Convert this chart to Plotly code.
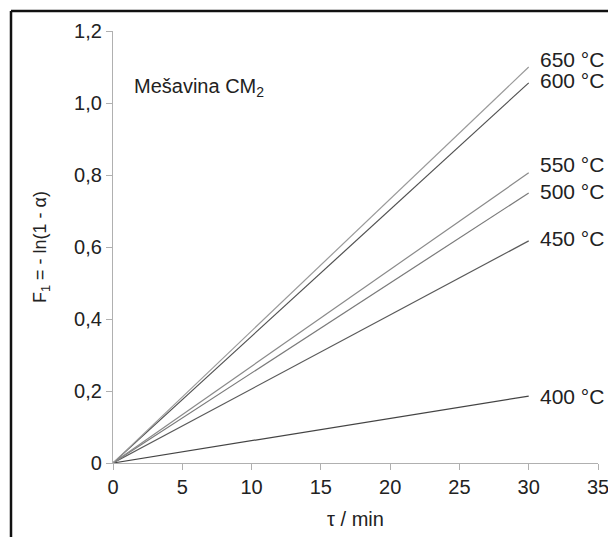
import plotly.graph_objects as go

# Data
tau = [0, 30]
series_names = ["400 °C", "450 °C", "500 °C", "550 °C", "600 °C", "650 °C"]
f400 = [0, 0.186]
f450 = [0, 0.617]
f500 = [0, 0.750]
f550 = [0, 0.806]
f600 = [0, 1.056]
f650 = [0, 1.100]
series_values = [f400, f450, f500, f550, f600, f650]
line_colors = ["#444444", "#5a5a5a", "#7a7a7a", "#8a8a8a", "#505050", "#9a9a9a"]

y_tickvals = [0, 0.2, 0.4, 0.6, 0.8, 1.0, 1.2]
y_ticktext = ["0", "0,2", "0,4", "0,6", "0,8", "1,0", "1,2"]
x_tickvals = [0, 5, 10, 15, 20, 25, 30, 35]

FONT = "Liberation Sans, Arial, sans-serif"
OFF = 8  # page body margin
W, H = 616 - OFF, 537 - OFF
L, T = 113 - OFF, 31 - OFF
pw, ph = 485, 432
R, B = W - L - pw, H - T - ph

label_shift = {"650 °C": 8, "600 °C": 2, "550 °C": 8, "500 °C": 2, "450 °C": 2, "400 °C": 0}

fig = go.Figure()
for name, vals, col in zip(series_names, series_values, line_colors):
    fig.add_trace(go.Scatter(x=tau, y=vals, mode="lines", name=name,
                             line=dict(color=col, width=1.2), showlegend=False,
                             hoverinfo="skip"))
    fig.add_annotation(x=tau[-1], y=vals[-1], xref="x", yref="y", text=name,
                       showarrow=False, xanchor="left", xshift=9,
                       yshift=label_shift[name],
                       font=dict(family=FONT, size=21, color="#222222"))

fig.add_annotation(x=(132 - 113) / pw, y=(463 - 87) / ph, xref="paper", yref="paper",
                   text="Mešavina CM<sub>2</sub>", showarrow=False, xanchor="left",
                   yanchor="middle", font=dict(family=FONT, size=20, color="#222222"))

# outer frame: only top and left edges are visible in the reference
fx0 = (11 - 113) / pw
fy1 = (463 - 11) / ph
fig.add_shape(type="line", xref="paper", yref="paper",
              x0=fx0, x1=(640 - 113) / pw, y0=fy1, y1=fy1,
              line=dict(color="#111111", width=2.5))
fig.add_shape(type="line", xref="paper", yref="paper",
              x0=fx0, x1=fx0, y0=(463 - 560) / ph, y1=fy1,
              line=dict(color="#111111", width=2.5))

fig.update_layout(
    width=W, height=H,
    margin=dict(l=L, r=R, t=T, b=B, autoexpand=False),
    paper_bgcolor="white", plot_bgcolor="white",
    font=dict(family=FONT, size=19, color="#222222"),
    xaxis=dict(range=[0, 35], tickvals=x_tickvals, showgrid=False, zeroline=False,
               showline=True, linecolor="#b0b0b0", linewidth=1.2,
               ticks="outside", ticklen=6, tickcolor="#b0b0b0",
               tickfont=dict(size=20), title=dict(text="τ / min", font=dict(size=20), standoff=14)),
    yaxis=dict(range=[0, 1.2], tickvals=y_tickvals, ticktext=y_ticktext, showgrid=False,
               zeroline=False, showline=True, linecolor="#b0b0b0", linewidth=1.2,
               ticks="outside", ticklen=6, tickcolor="#b0b0b0",
               tickfont=dict(size=20),
               title=dict(text="F<sub>1</sub> = - ln(1 - α)", font=dict(size=18), standoff=22)),
)

fig.write_html("out.html")
